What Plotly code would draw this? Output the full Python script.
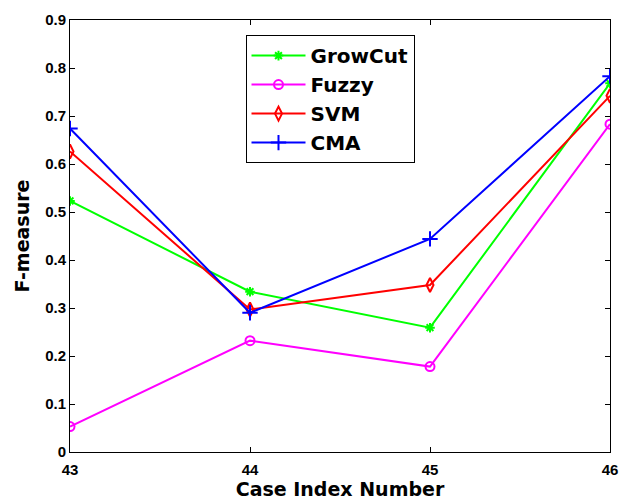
import plotly.graph_objects as go

# Case indices on the x axis
cases = [43, 44, 45, 46]

# F-measure per segmentation method
growcut = [0.523, 0.334, 0.259, 0.768]
fuzzy = [0.053, 0.232, 0.178, 0.683]
svm = [0.626, 0.297, 0.348, 0.742]
cma = [0.674, 0.290, 0.444, 0.783]

y_ticks = [0, 0.1, 0.2, 0.3, 0.4, 0.5, 0.6, 0.7, 0.8, 0.9]
y_tick_text = ["0", "0.1", "0.2", "0.3", "0.4", "0.5", "0.6", "0.7", "0.8", "0.9"]

series = [
    ("GrowCut", growcut, "#00ff00", "asterisk-open", 8),
    ("Fuzzy", fuzzy, "#ff00ff", "circle-open", 9),
    ("SVM", svm, "#ff0000", "diamond-tall-open", 10),
    ("CMA", cma, "#0000ff", "cross-thin-open", 11),
]

fig = go.Figure()
for name, vals, color, symbol, size in series:
    fig.add_trace(go.Scatter(
        x=cases, y=vals, name=name, mode="lines+markers",
        line=dict(color=color, width=2),
        marker=dict(symbol=symbol, size=size, color=color,
                    line=dict(color=color, width=2)),
    ))

tick_font = dict(family="Liberation Sans", size=15, color="black", weight="bold")
title_font = dict(family="DejaVu Sans", size=19, color="black", weight="bold")

fig.update_layout(
    width=627, height=500,
    margin=dict(l=70, r=9, t=20, b=48),
    paper_bgcolor="white", plot_bgcolor="white",
    showlegend=True,
    legend=dict(
        x=0.325, y=0.965, xanchor="left", yanchor="top",
        bgcolor="white", bordercolor="black", borderwidth=1,
        font=dict(family="DejaVu Sans", size=20, color="black", weight="bold"),
        itemwidth=54, tracegroupgap=0,
    ),
    xaxis=dict(
        range=[43, 46], tickvals=cases, ticktext=[str(c) for c in cases],
        showgrid=False, zeroline=False,
        showline=True, linecolor="black", linewidth=1, mirror="ticks",
        ticks="inside", ticklen=5, tickcolor="black",
        tickfont=tick_font, ticklabelstandoff=4,
        title=dict(text="Case Index Number", font=title_font, standoff=0),
    ),
    yaxis=dict(
        range=[0, 0.9], tickvals=y_ticks, ticktext=y_tick_text,
        showgrid=False, zeroline=False,
        showline=True, linecolor="black", linewidth=1, mirror="ticks",
        ticks="inside", ticklen=5, tickcolor="black",
        tickfont=tick_font,
        title=dict(text="F-measure", font=title_font, standoff=10),
    ),
)

fig.write_html("out.html")
